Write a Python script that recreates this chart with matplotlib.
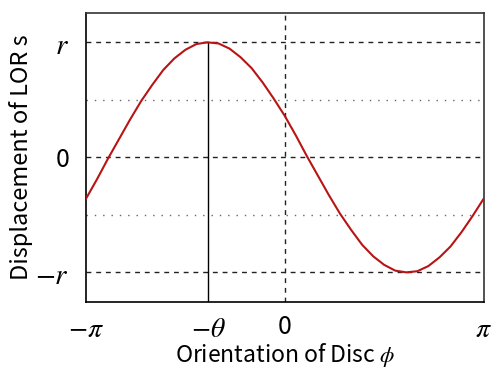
import numpy as np
import matplotlib
matplotlib.use("Agg")
import matplotlib.pyplot as plt

plt.rcParams['font.family'] = ['Noto Sans CJK JP', 'DejaVu Sans']
plt.rcParams['mathtext.fontset'] = 'stix'

# Orientation phi (degrees) and displacement s (in units of r)
phi_deg = [-180, -170, -160, -150, -140, -130, -120, -110, -100, -90, -80, -70, -60,
           -50, -40, -30, -20, -10, 0, 10, 20, 30, 40, 50, 60,
           70, 80, 90, 100, 110, 120, 130, 140, 150, 160, 170, 180]
s_vals = [-0.36, -0.19, -0.01, 0.16, 0.33, 0.49, 0.63, 0.76, 0.86, 0.935, 0.985, 1.0, 0.99,
          0.945, 0.87, 0.775, 0.65, 0.51, 0.36, 0.19, 0.01, -0.16, -0.33, -0.49, -0.63,
          -0.76, -0.86, -0.935, -0.985, -1.0, -0.99, -0.945, -0.87, -0.775, -0.65, -0.51, -0.36]
theta = 1.21  # peak position -theta (radians)
r = 1.0

xtick_pos = [-np.pi, -theta, 0.0, np.pi]
xtick_labels = [r'$-\pi$', r'$-\theta$', '0', r'$\pi$']
ytick_pos = [r, 0.0, -r]
ytick_labels = [r'$r$', '0', r'$-r$']

fig = plt.figure(figsize=(4.93, 3.70), dpi=100)
ax = fig.add_axes([0.1744, 0.1846, 0.8066, 0.7803])

x = np.deg2rad(phi_deg)
ax.set_xlim(-np.pi, np.pi)
ax.set_ylim(-1.255, 1.255)

for yv in ytick_pos:
    ax.axhline(yv, color='#222222', lw=1.0, ls=(0, (3.5, 3.5)), zorder=1)
for yv in [0.5 * r, -0.5 * r]:
    ax.axhline(yv, color='#666666', lw=1.0, ls=(0, (1, 5)), zorder=1)
ax.axvline(0.0, color='#222222', lw=1.0, ls=(0, (3.5, 3.5)), zorder=1)
ax.plot([-theta, -theta], [-1.255, r], color='black', lw=1.0, zorder=2)

ax.plot(x, s_vals, color='#b81414', lw=1.5, zorder=3)

ax.set_xticks(xtick_pos)
ax.set_xticklabels(xtick_labels, fontsize=20)
for lbl in ax.get_xticklabels():
    if lbl.get_text() == '0':
        lbl.set_fontsize(18)
ax.set_yticks(ytick_pos)
ax.set_yticklabels(ytick_labels, fontsize=21)
for lbl in ax.get_yticklabels():
    if lbl.get_text() == '0':
        lbl.set_fontsize(18)
ax.tick_params(axis='x', length=0, pad=9)
ax.tick_params(axis='y', length=0, pad=12)

for side in ['left', 'bottom']:
    ax.spines[side].set_color('black')
    ax.spines[side].set_linewidth(1.2)
for side in ['top', 'right']:
    ax.spines[side].set_color('#333333')
    ax.spines[side].set_linewidth(1.2)

ax.set_xlabel(r'Orientation of Disc $\phi$', fontsize=16.5, labelpad=-2)
ax.set_ylabel('Displacement of LOR s', fontsize=17, labelpad=2)

fig.savefig('out.png', dpi=100)
